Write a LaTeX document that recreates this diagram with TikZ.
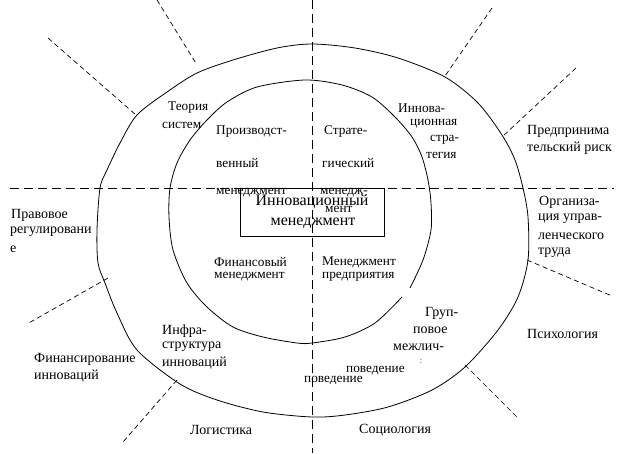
\documentclass[tikz,border=0pt]{standalone}
\usepackage{fontspec}
\setmainfont{Liberation Serif}
\begin{document}
\begin{tikzpicture}[x=1pt,y=-1pt,
  ring/.style={draw=black,line width=0.8pt},
  axis/.style={draw=black,line width=0.8pt,dash pattern=on 9pt off 5pt},
  ray/.style={draw=black,line width=0.7pt,dash pattern=on 5pt off 3.5pt},
  inlbl/.style={anchor=west,inner sep=0pt,font=\fontsize{13.3}{15}\selectfont},
  outlbl/.style={anchor=west,inner sep=0pt,font=\fontsize{14}{16}\selectfont},
  boxlbl/.style={anchor=center,inner sep=0pt,font=\fontsize{16}{18}\selectfont},
  tinylbl/.style={anchor=center,inner sep=0pt,font=\fontsize{8}{9}\selectfont}]
\useasboundingbox (0,0) rectangle (637,453);

% axes
\coordinate (hL) at (10,188);
\coordinate (hR) at (614,188);
\coordinate (vT) at (312,0);
\coordinate (vB) at (312,453);
\draw[axis] (hL) -- (hR);
\draw[axis] (vT) -- (vB);

% outer ring
\draw[ring] plot[smooth cycle] coordinates {(312,44) (355,48) (398,58) (445,77) (478,103) (502,135) (515,160) (523,188) (528,217) (528,260) (518,297) (498,330) (465,367) (432,390) (388,407) (345,415) (312,417) (263,412) (217,400) (180,384) (137,350) (117,313) (105,283) (98,263) (97,230) (100,188) (107,170) (120,143) (137,115) (167,92) (197,73) (233,60) (277,48)};

% inner ring (small gap at lower right)
\draw[ring] plot[smooth] coordinates {(402,297) (375,323) (345,337) (312,343) (297,343) (263,337) (233,327) (207,307) (187,283) (173,250) (169,217) (170,188) (177,163) (190,140) (207,120) (227,102) (257,87) (305,80) (342,85) (372,97) (395,117) (412,137) (422,157) (428,180) (431,203) (431,230) (423,260) (410,288)};

% central box
\draw[line width=0.8pt] (240,188) rectangle (384,236);
\node[boxlbl] (c1) at (312,202) {Инновационный};
\node[boxlbl] (c2) at (313,223) {менеджмент};

% rays
\coordinate (r1a) at (157,0);   \coordinate (r1b) at (197,65);
\coordinate (r2a) at (48,38);   \coordinate (r2b) at (136,115);
\coordinate (r3a) at (492,8);   \coordinate (r3b) at (445,76);
\coordinate (r4a) at (576,68);  \coordinate (r4b) at (502,137);
\coordinate (r5a) at (527,260); \coordinate (r5b) at (612,296);
\coordinate (r6a) at (465,365); \coordinate (r6b) at (517,417);
\coordinate (r7a) at (177,380); \coordinate (r7b) at (123,442);
\coordinate (r8a) at (108,278); \coordinate (r8b) at (27,324);
\draw[ray] (r1a) -- (r1b);
\draw[ray] (r2a) -- (r2b);
\draw[ray] (r3a) -- (r3b);
\draw[ray] (r4a) -- (r4b);
\draw[ray] (r5a) -- (r5b);
\draw[ray] (r6a) -- (r6b);
\draw[ray] (r7a) -- (r7b);
\draw[ray] (r8a) -- (r8b);

% inner quadrant labels
\node[inlbl] (p1) at (216,132) {Производст-};
\node[inlbl] (p2) at (216,163) {венный};
\node[inlbl] (p3) at (216,193) {менеджмент};
\node[inlbl] (s1) at (324,132) {Страте-};
\node[inlbl] (s2) at (322,163) {гический};
\node[inlbl] (s3) at (320,193) {менедж-};
\node[inlbl] (s4) at (325,209) {мент};
\node[inlbl] (f1) at (214,262) {Финансовый};
\node[inlbl] (f2) at (214,277) {менеджмент};
\node[inlbl] (m1) at (322,262) {Менеджмент};
\node[inlbl] (m2) at (322,277) {предприятия};

% ring labels
\node[inlbl] (t1) at (168,108) {Теория};
\node[inlbl] (t2) at (162,125) {систем};
\node[inlbl] (i1) at (398,108) {Иннова-};
\node[inlbl] (i2) at (410,124) {ционная};
\node[inlbl] (i3) at (430,140) {стра-};
\node[inlbl] (i4) at (426,155) {тегия};
\node[outlbl] (n1) at (162,331) {Инфра-};
\node[outlbl] (n2) at (162,347) {структура};
\node[outlbl] (n3) at (162,363) {инноваций};
\node[outlbl] (g1) at (425,313) {Груп-};
\node[outlbl] (g2) at (413,330) {повое};
\node[outlbl] (g3) at (393,347) {межлич-};
\node[tinylbl] (g4) at (421,362) {:};
\node[inlbl] (g5) at (346,371) {поведение};
\begin{scope}
  \clip (300,372) rectangle (372,383.5);
  \node[inlbl] (g6) at (304,380.5) {поведение};
\end{scope}

% outside labels
\node[outlbl] (e1) at (527,131) {Предпринима};
\node[outlbl] (e2) at (527,148) {тельский риск};
\node[outlbl] (o1) at (539,202) {Организа-};
\node[outlbl] (o2) at (538,219) {ция управ-};
\node[outlbl] (o3) at (538,236) {ленческого};
\node[outlbl] (o4) at (538,253) {труда};
\node[outlbl] (ps) at (527,334) {Психология};
\node[outlbl] (so) at (359,430) {Социология};
\node[outlbl] (lo) at (190,430) {Логистика};
\node[outlbl] (fi1) at (34,359) {Финансирование};
\node[outlbl] (fi2) at (34,376) {инноваций};
\node[outlbl] (pr1) at (11,215) {Правовое};
\node[outlbl] (pr2) at (10,232) {регулировани};
\node[outlbl] (pr3) at (10,249) {е};
\end{tikzpicture}
\end{document}
